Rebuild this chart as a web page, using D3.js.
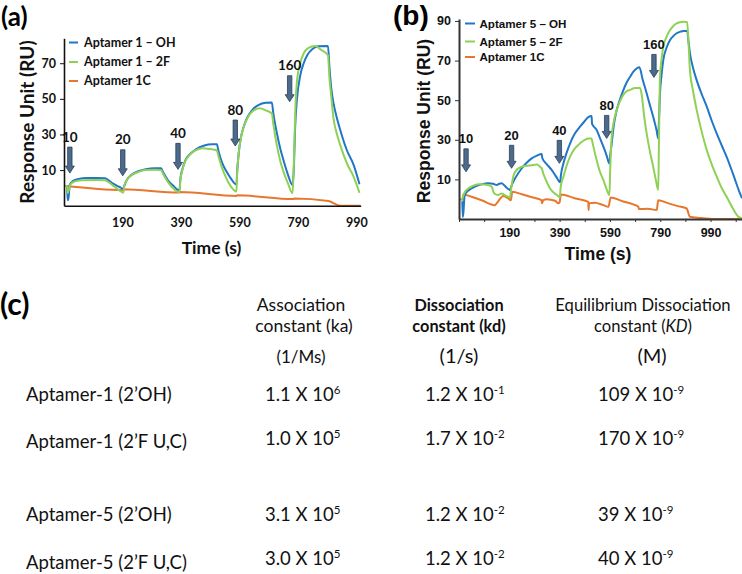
<!DOCTYPE html>
<html><head><meta charset="utf-8">
<script src="https://cdn.jsdelivr.net/npm/d3@7"></script>
<style>body{margin:0;background:#fff} svg{display:block}</style>
</head><body>
<svg id="fig" width="742" height="574"></svg>
<script>
// ---------------- DATA ----------------
const timeTickLabels = [190, 390, 590, 790, 990];
const bMinorTimeTicks = [-10, 90, 190, 290, 390, 490, 590, 690, 790, 890, 990, 1090];
const aYTicks = [10, 30, 50, 70];
const bYTicks = [10, 30, 50, 70, 90];
const arrowLabels = ["10", "20", "40", "80", "160"];
const aArrowTimes = [10, 191, 380, 576, 762];
const aArrowTips = [8.3, 6.8, 10.4, 23.5, 48.4];
const bArrowTimes = [18, 199, 389, 577, 765];
const bArrowTips = [13.8, 15.6, 18.1, 30.7, 61.5];
const aSeriesNames = ["Aptamer 1 \u2013 OH", "Aptamer 1 \u2013 2F", "Aptamer 1C"];
const bSeriesNames = ["Aptamer 5 \u2013 OH", "Aptamer 5 \u2013 2F", "Aptamer 1C"];
const seriesColors = ["#2176c7", "#8fd155", "#e8772e"];

// Panel (a) sensorgrams [time s, RU]
const aOH = [[-10,1],[0,1],[3,-7],[6,-5],[10,2],[20,3.8],[40,5],[70,5.5],[100,5.6],[130,5.4],[140,4.5],[160,2.2],[180,0.5],[193,-0.6],
 [196,1],[205,4.5],[220,7.2],[245,9.4],[270,10.5],[300,11],[322,11],[330,8.5],[347,4],[365,1],[385,-1.5],
 [388,5],[395,10.5],[405,15.5],[420,18.8],[440,21.5],[470,23.8],[495,24.5],[513,24.5],[518,21],[530,14.5],[545,9.5],[560,5.5],[580,1.8],
 [582,8],[588,20],[595,28],[605,34.5],[617,39.5],[635,44],[655,46.5],[680,47.8],[701,48],[706,42],[718,31],[730,22],[741,15.5],[755,8],[772,1.6],
 [776,10],[781,35],[787,50],[798,63],[810,70],[822,74.5],[840,78],[860,79.5],[893,79.7],[898,68],[905,55],[912,47.6],[924,39],[935,32.5],[958,21],[981,12.8],[1001,2]];
const a2F = [[-10,1],[0,1],[3,-3],[7,-1],[12,2],[25,3.5],[50,4.3],[100,4.5],[130,4.3],[140,3.5],[160,1],[180,-1.5],[193,-2.7],
 [196,1],[205,4.5],[220,7],[245,9],[270,10],[300,10.2],[322,10],[330,7.5],[347,3],[365,-0.5],[385,-2.5],
 [388,4],[395,10],[405,15],[420,18.5],[440,21],[465,22.3],[490,21.8],[513,21],[518,18],[530,11.5],[545,5.5],[560,1],[580,-2],
 [582,7],[588,20],[595,28],[605,34.5],[617,39],[635,43],[660,44.7],[680,43.5],[701,41.8],[706,36],[718,24],[730,15],[741,9],[755,3],[772,-3],
 [776,12],[781,42],[787,60],[798,70],[810,75.5],[825,78.5],[850,79.7],[870,77.5],[893,74.5],[898,62],[905,50],[912,39],[924,30],[935,24],[958,13.7],[981,6.2],[1001,-2.8]];
const a1C = [[-10,1.2],[190,-1.2],[192,-0.8],[385,-2.6],[387,-2.3],[580,-4.5],[582,-4.2],[775,-6.3],[777,-6],[895,-7.4],[935,-10],[1005,-10]];

// Panel (b) sensorgrams [time s, RU]
const bOH = [[3,-1],[5,-9],[8,-6],[12,1.5],[20,3.5],[40,5.4],[60,6.7],[80,7.5],[106,8],[125,7.8],[140,7.2],[150,7.8],[160,8],[170,7],[182,5.5],[193,4.6],
 [198,6.5],[213,10.5],[239,15.5],[260,18.5],[279,20.6],[300,22],[319,22.8],[321,20.8],[340,17.5],[359,14.7],[378,11],[392,8.5],
 [395,12],[405,18],[418,23.5],[431,28],[450,33],[471,36.6],[490,39.5],[504,41.5],[517,42],[519,38],[537,35],[550,31],[564,26.5],[577,22],[588,18],
 [591,22],[597,28],[605,37],[617,45],[630,50.5],[643,55],[656,58.8],[670,61.8],[684,64.5],[696,66],[707,66.6],[720,60.5],[736,53.5],[750,47],[762,41.6],[775,35],[782,30.7],
 [785,40],[789,53.5],[795,62.5],[802,70.3],[815,76.5],[829,80.4],[843,82.5],[855,83.8],[870,84.6],[882,85],[897,85],[902,80],[908,73.7],[920,66.5],[935,60],[955,53],[975,46.7],[995,39.5],[1015,33],[1035,27],[1054,21.4],[1080,12.5],[1107,2.9],[1115,0.5]];
const b2F = [[1,-0.5],[5,1],[15,4],[27,5.4],[45,6.7],[67,7.5],[90,7.4],[106,7.1],[120,6.3],[125,4.5],[130,2.9],[146,2.1],[153,2.6],[160,2.9],[175,1.8],[186,1.2],[193,0.8],
 [197,5],[205,11],[213,13.8],[239,16.4],[279,17.2],[300,17.5],[312,16.4],[319,15.5],[325,13],[338,9],[352,5.4],[365,3.5],[378,2.2],[391,1],
 [394,6],[405,11.3],[418,17],[431,21.4],[450,25.5],[471,28.2],[490,30],[504,30.7],[517,30.7],[520,29],[537,19.8],[550,14],[564,9.6],[577,5],[588,2.1],
 [591,15],[597,31.5],[605,39],[617,45],[630,49.5],[643,52.6],[656,54.5],[670,55.2],[690,56.2],[710,56.2],[716,53],[726,42],[736,33.2],[749,24],[762,16.4],[772,10],[782,4.6],
 [785,30],[789,61.8],[795,70.5],[802,76.9],[815,82],[829,85.4],[842,87.5],[855,88.8],[868,89.4],[882,89.6],[897,89.5],[902,80],[908,65.2],[920,55],[935,45],[955,34],[975,24.8],[995,17.5],[1015,11.3],[1035,5.5],[1054,1.2],[1080,-5],[1100,-8.8],[1115,-9.6]];
const b1C = [[-10,-0.1],[5,-0.1],[7,2.4],[40,1.2],[80,-0.5],[133,-3],[140,-2],[166,1.6],[186,0.4],[196,-0.5],[202,3.7],[240,2.5],[280,1],[318,-0.5],[320,-2.1],[325,-0.5],[339,0],[372,-0.8],[385,-2.1],[390,-1.5],[395,2.4],[450,0.5],[504,-1.3],[505,-5.5],[507,-2],[530,-1.8],[564,-3],[584,-3.8],[593,0.9],[640,-1],[680,-2.5],[703,-3.8],[705,-5],[740,-4.8],[776,-5.5],[782,-0.5],[820,-2],[860,-3.5],[895,-4.7],[908,-8.9],[950,-9.5],[1001,-10],[1115,-10]];

// Panel (c) table
const tableHeaderLine1 = ["Association", "Dissociation", "Equilibrium Dissociation"];
const tableHeaderLine2 = ["constant  (ka)", "constant (kd)", "constant ("];
const tableUnits = ["(1/Ms)", "(1/s)", "(M)"];
const tableRowLabels = ["Aptamer-1 (2\u2019OH)", "Aptamer-1 (2\u2019F U,C)", "Aptamer-5 (2\u2019OH)", "Aptamer-5 (2\u2019F U,C)"];
const kaMantissa = ["1.1", "1.0", "3.1", "3.0"];
const kaExponent = ["6", "5", "5", "5"];
const kdMantissa = ["1.2", "1.7", "1.2", "1.2"];
const kdExponent = ["-1", "-2", "-2", "-2"];
const KDMantissa = ["109", "170", "39", "40"];
const KDExponent = ["-9", "-9", "-9", "-9"];

// ---------------- DRAW ----------------
const svg = d3.select("#fig");

function drawPanel(cfg) {
  const x = d3.scaleLinear().domain(cfg.xDomain).range(cfg.xRange);
  const y = d3.scaleLinear().domain(cfg.yDomain).range(cfg.yRange);
  const g = svg.append("g");
  const clipId = "clip-" + cfg.id;
  g.append("clipPath").attr("id", clipId).append("rect")
    .attr("x", cfg.xRange[0]).attr("y", cfg.yRange[1] - 10)
    .attr("width", cfg.xRange[1] - cfg.xRange[0]).attr("height", cfg.yRange[0] - cfg.yRange[1] + 12);

  const line = d3.line().x(d => x(d[0])).y(d => y(d[1])).curve(d3.curveMonotoneX);
  const lines = g.append("g").attr("clip-path", `url(#${clipId})`);
  [cfg.series[2], cfg.series[0], cfg.series[1]].forEach((s, i) => {
    const ci = [2, 0, 1][i];
    lines.append("path").datum(s).attr("d", line)
      .attr("fill", "none").attr("stroke", seriesColors[ci])
      .attr("stroke-width", 2).attr("stroke-linejoin", "round");
  });

  // axes
  const yAxis = d3.axisLeft(y).tickValues(cfg.yTicks).tickSize(4).tickSizeOuter(0).tickPadding(4);
  const ya = g.append("g").attr("transform", `translate(${cfg.xRange[0]},0)`).call(yAxis);
  const xAxis = d3.axisBottom(x).tickValues(timeTickLabels).tickSize(0).tickSizeOuter(0).tickPadding(cfg.xTickPad);
  const xa = g.append("g").attr("transform", `translate(0,${cfg.yRange[0]})`).call(xAxis);
  [ya, xa].forEach(a => {
    a.select(".domain").attr("stroke", cfg.axisColor).attr("stroke-width", cfg.axisWidth);
    a.selectAll(".tick line").attr("stroke", cfg.axisColor);
    a.selectAll("text").attr("fill", "#111").attr("font-family", cfg.font)
      .attr("font-weight", "bold").attr("font-size", cfg.tickFont);
  });
  if (cfg.minorTicks) {
    g.append("g").attr("transform", `translate(0,${cfg.yRange[0]})`)
      .call(d3.axisBottom(x).tickValues(cfg.minorTicks).tickSize(3).tickSizeOuter(0).tickFormat(""))
      .call(a => a.select(".domain").remove())
      .selectAll(".tick line").attr("stroke", cfg.axisColor);
  }

  // axis titles
  g.append("text").attr("transform", `translate(${cfg.yTitlePos[0]},${cfg.yTitlePos[1]}) rotate(-90)`)
    .attr("text-anchor", "middle").attr("dy", "0.35em")
    .attr("font-family", cfg.font).attr("font-weight", "bold").attr("font-size", cfg.titleFont)
    .attr("fill", "#111").text("Response Unit (RU)");
  g.append("text").attr("x", cfg.xTitlePos[0]).attr("y", cfg.xTitlePos[1])
    .attr("text-anchor", "middle")
    .attr("font-family", cfg.font).attr("font-weight", "bold").attr("font-size", cfg.xTitleFont)
    .attr("fill", "#111").text("Time (s)");

  // panel letter
  g.append("text").attr("x", cfg.letterPos[0]).attr("y", cfg.letterPos[1])
    .attr("font-family", cfg.font).attr("font-weight", "bold").attr("font-size", cfg.letterFont)
    .attr("fill", "#000").text(cfg.letter);

  // arrows
  cfg.arrowTimes.forEach((t, i) => {
    const px = x(t), tip = y(cfg.arrowTips[i]), top = tip - cfg.arrowLen;
    const hw = 4.5, sw = 2.2, hh = 7;
    const p = [[px - sw, top], [px + sw, top], [px + sw, tip - hh], [px + hw, tip - hh], [px, tip],
               [px - hw, tip - hh], [px - sw, tip - hh]];
    g.append("path").attr("d", "M" + p.map(q => q.join(",")).join("L") + "Z")
      .attr("fill", "#4c6a8c").attr("stroke", "#2b3f57").attr("stroke-width", 0.8);
    g.append("text").attr("x", px).attr("y", top - 5.5).attr("text-anchor", "middle")
      .attr("font-family", cfg.font).attr("font-weight", "bold").attr("font-size", cfg.arrowFont)
      .attr("fill", "#111").text(arrowLabels[i]);
  });

  // legend
  cfg.names.forEach((n, i) => {
    const ly = cfg.legendY[i];
    g.append("line").attr("x1", cfg.legendX[0]).attr("x2", cfg.legendX[1])
      .attr("y1", ly).attr("y2", ly).attr("stroke", seriesColors[i]).attr("stroke-width", 2);
    g.append("text").attr("x", cfg.legendX[2]).attr("y", ly).attr("dy", "0.35em")
      .attr("font-family", cfg.font).attr("font-weight", "bold").attr("font-size", cfg.legendFont)
      .attr("fill", "#111").text(n);
  });
}

drawPanel({
  id: "a", letter: "(a)", letterPos: [1, 26], letterFont: 26, font: "Lato, 'Open Sans', sans-serif",
  xDomain: [-10, 1005], xRange: [64, 360.7], yDomain: [-10, 84], yRange: [205.7, 38.3],
  yTicks: aYTicks, series: [aOH, a2F, a1C], names: aSeriesNames,
  axisColor: "#111", axisWidth: 1.6, tickFont: 12.5, xTickPad: 12, titleFont: 19, xTitleFont: 17.5,
  yTitlePos: [27, 122], xTitlePos: [211.5, 254],
  arrowTimes: aArrowTimes, arrowTips: aArrowTips, arrowLen: 26, arrowFont: 13.5,
  legendX: [69, 78, 84], legendY: [42.5, 62, 81], legendFont: 12.5
});
drawPanel({
  id: "b", letter: "(b)", letterPos: [393, 25], letterFont: 28, font: "'Liberation Sans', Arial, sans-serif",
  xDomain: [-10, 1115], xRange: [459, 742], yDomain: [-10, 91], yRange: [219, 19],
  yTicks: bYTicks, series: [bOH, b2F, b1C], names: bSeriesNames, minorTicks: bMinorTimeTicks,
  axisColor: "#333", axisWidth: 2, tickFont: 12.5, xTickPad: 9, titleFont: 17.5, xTitleFont: 17.5,
  yTitlePos: [424, 121], xTitlePos: [598, 260],
  arrowTimes: bArrowTimes, arrowTips: bArrowTips, arrowLen: 23, arrowFont: 13,
  legendX: [465, 475, 479.5], legendY: [23.5, 41.5, 57], legendFont: 11.6
});

// ---------------- TABLE (c) ----------------
const tf = "Lato, 'Open Sans', sans-serif";
const tg = svg.append("g").attr("font-family", tf).attr("fill", "#111");
tg.append("text").attr("x", 0).attr("y", 315).attr("font-weight", "bold").attr("font-size", 30).attr("fill", "#000").text("(c)");

const colCenters = [301, 459, 643];
const headerStyles = [
  {w: "normal", s: 17.5}, {w: "bold", s: 16.3}, {w: "normal", s: 16.6}
];
tableHeaderLine1.forEach((h, i) => {
  tg.append("text").attr("x", colCenters[i]).attr("y", 311).attr("text-anchor", "middle")
    .attr("font-weight", headerStyles[i].w).attr("font-size", headerStyles[i].s).text(h);
});
tableHeaderLine2.forEach((h, i) => {
  const t = tg.append("text").attr("x", colCenters[i] + (i === 0 ? 3 : 0)).attr("y", 332).attr("text-anchor", "middle")
    .attr("font-weight", headerStyles[i].w).attr("font-size", headerStyles[i].s).text(h);
  if (i === 2) {
    t.append("tspan").attr("font-style", "italic").text("KD");
    t.append("tspan").text(")");
  }
});
const unitSizes = [17, 20, 20];
const unitDx = [0, 0, 9];
tableUnits.forEach((u, i) => {
  tg.append("text").attr("x", colCenters[i] + unitDx[i]).attr("y", 363).attr("text-anchor", "middle")
    .attr("font-size", unitSizes[i]).text(u);
});

const labelY = [401, 448, 521, 569];
const valueY = [401, 445, 521, 564.5];
const valueX = [265, 425, 598];
const cols = [[kaMantissa, kaExponent], [kdMantissa, kdExponent], [KDMantissa, KDExponent]];
tableRowLabels.forEach((lab, r) => {
  tg.append("text").attr("x", 26).attr("y", labelY[r]).attr("font-size", 18.5).text(lab);
  cols.forEach((c, ci) => {
    const t = tg.append("text").attr("x", valueX[ci]).attr("y", valueY[r]).attr("font-size", 18.5)
      .text(c[0][r] + " X 10");
    t.append("tspan").attr("dy", -7).attr("font-size", 11.5).text(c[1][r]);
  });
});
</script>
</body></html>
